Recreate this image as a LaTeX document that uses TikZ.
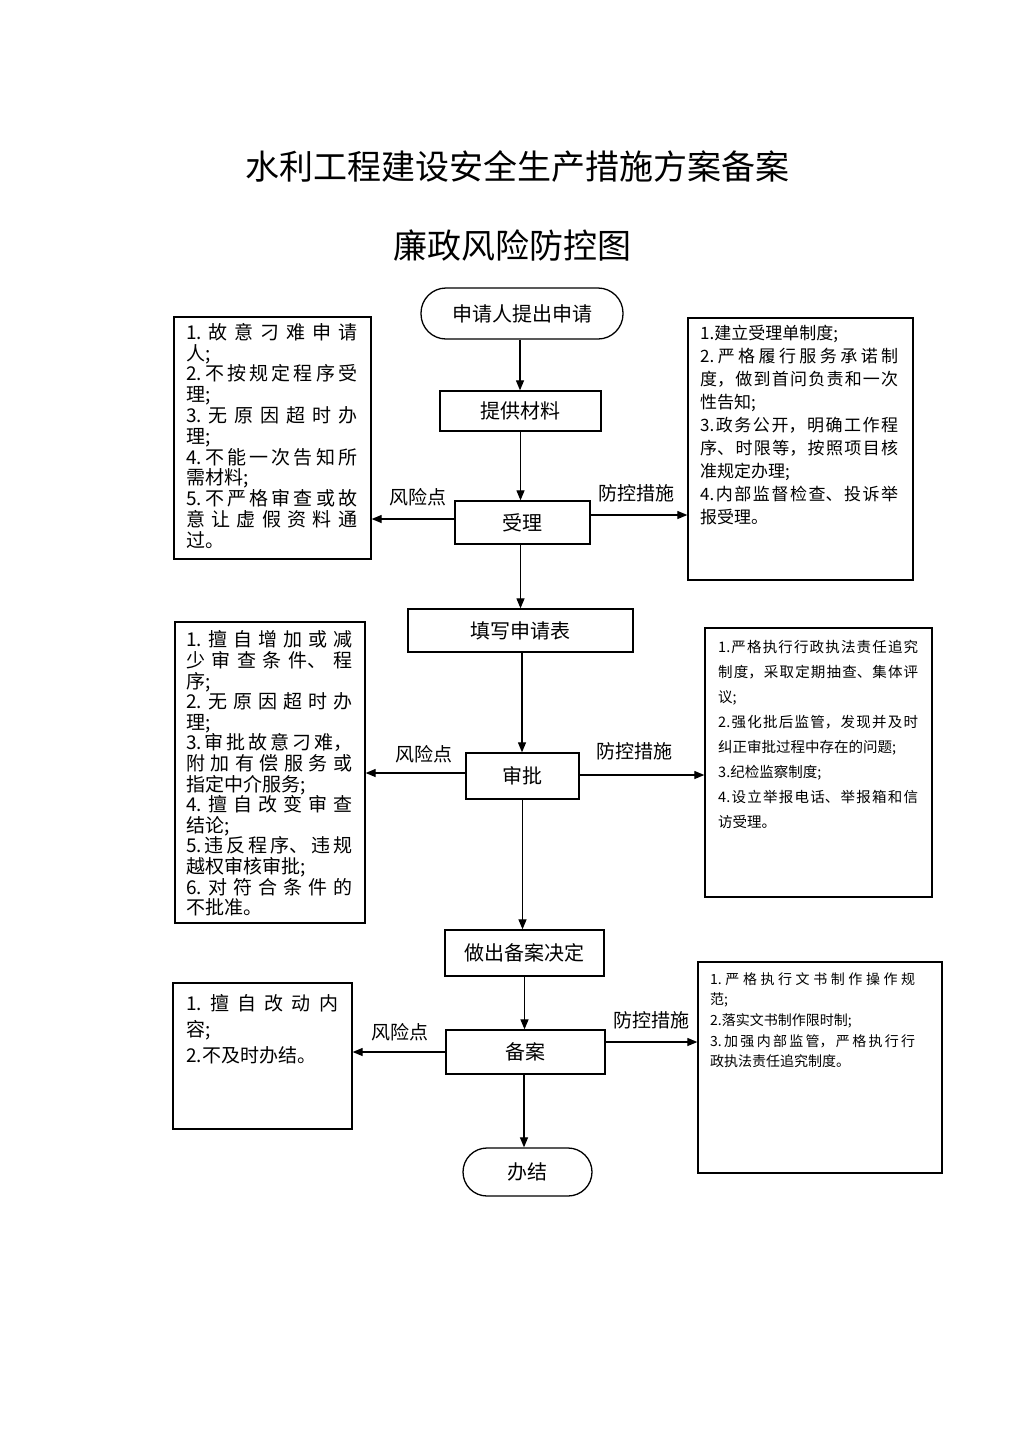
\documentclass[tikz,border=0pt]{standalone}
\usepackage{fontspec}
\setmainfont{Noto Sans CJK SC}
\usetikzlibrary{arrows.meta}
\XeTeXlinebreaklocale "zh"
\XeTeXlinebreakskip=0pt plus 8pt
\tikzset{
  flowbox/.style={draw, line width=1.3pt, inner sep=0pt, font=\fontsize{20}{23}\selectfont},
  infobox/.style={draw, line width=1.3pt, inner sep=0pt},
  boxtext/.style={anchor=north west, inner sep=0pt, align=justify},
  arr/.style={line width=1.2pt, -{Triangle[length=10pt,width=8pt]}},
  lbl/.style={inner sep=0pt, font=\fontsize{19}{22}\selectfont},
}
\begin{document}
\begin{tikzpicture}[x=1pt,y=-1pt]
\useasboundingbox (0,0) rectangle (1024,1449);
\fill[white] (0,0) rectangle (1024,1449);

% titles
\node[font=\fontsize{34}{40}\selectfont] (t1) at (517,167) {水利工程建设安全生产措施方案备案};
\node[font=\fontsize{34}{40}\selectfont] (t2) at (512,246) {廉政风险防控图};

% main flow
\node[flowbox, rounded corners=25pt, minimum width=202pt, minimum height=51pt] (start) at (522,313.5) {申请人提出申请};
\node[flowbox, minimum width=161pt, minimum height=40pt] (mat) at (520.5,411) {提供材料};
\node[flowbox, minimum width=135pt, minimum height=43pt] (acc) at (522.5,522.5) {受理};
\node[flowbox, minimum width=225pt, minimum height=43pt] (form) at (520.5,630.5) {填写申请表};
\node[flowbox, minimum width=113pt, minimum height=46pt] (appr) at (522.5,776) {审批};
\node[flowbox, minimum width=159pt, minimum height=46pt] (dec) at (524.5,953) {做出备案决定};
\node[flowbox, minimum width=159pt, minimum height=44pt] (rec) at (525.5,1052) {备案};
\node[flowbox, rounded corners=24pt, minimum width=129pt, minimum height=48pt] (fin) at (527.5,1172) {办结};

% side boxes
\node[infobox, minimum width=197pt, minimum height=242pt] (lb1) at (272.5,438) {};
\node[infobox, minimum width=225pt, minimum height=262pt] (rb1) at (800.5,449) {};
\node[infobox, minimum width=190pt, minimum height=301pt] (lb2) at (270,772.5) {};
\node[infobox, minimum width=227pt, minimum height=269pt] (rb2) at (818.5,762.5) {};
\node[infobox, minimum width=179pt, minimum height=146pt] (lb3) at (262.5,1056) {};
\node[infobox, minimum width=244pt, minimum height=211pt] (rb3) at (820,1067.5) {};

% texts in side boxes
\node[boxtext, text width=171pt, font=\fontsize{19}{20.8}\selectfont] (lt1) at (186,323)
{1.故意刁难申请\linebreak 人;\par 2.不按规定程序受\linebreak 理;\par 3.无原因超时办\linebreak 理;\par 4.不能一次告知所\linebreak 需材料;\par 5.不严格审查或故\linebreak 意让虚假资料通\linebreak 过。};

\node[boxtext, text width=198pt, font=\fontsize{17}{23}\selectfont] (rt1) at (700,324.5)
{1.建立受理单制度;\par 2.严格履行服务承诺制\linebreak 度，做到首问负责和一次\linebreak 性告知;\par 3.政务公开，明确工作程\linebreak 序、时限等，按照项目核\linebreak 准规定办理;\par 4.内部监督检查、投诉举\linebreak 报受理。};

\node[boxtext, text width=166pt, font=\fontsize{19}{20.6}\selectfont] (lt2) at (186,630.5)
{1.擅自增加或减\linebreak 少审查条件、程\linebreak 序;\par 2.无原因超时办\linebreak 理;\par 3.审批故意刁难，\linebreak 附加有偿服务或\linebreak 指定中介服务;\par 4.擅自改变审查\linebreak 结论;\par 5.违反程序、违规\linebreak 越权审核审批;\par 6.对符合条件的\linebreak 不批准。};

\node[boxtext, text width=200pt, font=\fontsize{14.5}{25}\selectfont] (rt2) at (718,640)
{1.严格执行行政执法责任追究\linebreak 制度，采取定期抽查、集体评\linebreak 议;\par 2.强化批后监管，发现并及时\linebreak 纠正审批过程中存在的问题;\par 3.纪检监察制度;\par 4.设立举报电话、举报箱和信\linebreak 访受理。};

\node[boxtext, text width=152pt, font=\fontsize{19}{26}\selectfont] (lt3) at (186,994)
{1.擅自改动内\linebreak 容;\par 2.不及时办结。};

\node[boxtext, text width=205pt, font=\fontsize{14}{20.7}\selectfont] (rt3) at (710,972)
{1.严格执行文书制作操作规\linebreak 范;\par 2.落实文书制作限时制;\par 3.加强内部监管，严格执行行\linebreak 政执法责任追究制度。};

% vertical arrows
\draw[arr] ([xshift=-2pt]start.south) -- ([xshift=-2pt]start.south |- mat.north);
\draw[arr] (mat.south) -- (mat.south |- acc.north);
\draw[arr] ([xshift=-2pt]acc.south) -- ([xshift=-2pt]acc.south |- form.north);
\draw[arr] ([xshift=1.5pt]form.south) -- ([xshift=1.5pt]form.south |- appr.north);
\draw[arr] (appr.south) -- (appr.south |- dec.north);
\draw[arr] (dec.south) -- (dec.south |- rec.north);
\draw[arr] ([xshift=-1.5pt]rec.south) -- ([xshift=-1.5pt]rec.south |- fin.north);

% horizontal arrows
\draw[arr] ([yshift=3.5pt]acc.west) -- ([yshift=3.5pt]acc.west -| lb1.east);
\draw[arr] ([yshift=7.5pt]acc.east) -- ([yshift=7.5pt]acc.east -| rb1.west);
\draw[arr] ([yshift=3pt]appr.west) -- ([yshift=3pt]appr.west -| lb2.east);
\draw[arr] ([yshift=1pt]appr.east) -- ([yshift=1pt]appr.east -| rb2.west);
\draw[arr] (rec.west) -- (rec.west -| lb3.east);
\draw[arr] ([yshift=10pt]rec.east) -- ([yshift=10pt]rec.east -| rb3.west);

% labels
\node[lbl] (r1) at (418,497) {风险点};
\node[lbl] (m1) at (636,493) {防控措施};
\node[lbl] (r2) at (424,754) {风险点};
\node[lbl] (m2) at (634,751) {防控措施};
\node[lbl] (r3) at (400,1032) {风险点};
\node[lbl] (m3) at (651,1020) {防控措施};
\end{tikzpicture}
\end{document}
